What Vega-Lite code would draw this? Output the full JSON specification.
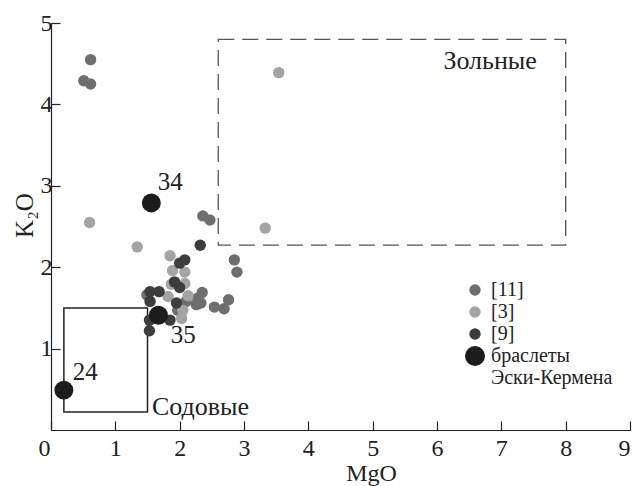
{
  "$schema": "https://vega.github.io/schema/vega-lite/v6.json",
  "autosize": {"type": "none"},
  "padding": {"left": 51, "top": 23, "right": 8, "bottom": 56},
  "width": 579,
  "height": 407,
  "background": "white",
  "config": {
    "view": {"stroke": null},
    "font": "Liberation Serif",
    "style": {"guide-label": {"font": "Liberation Serif", "fill": "#222"}, "guide-title": {"font": "Liberation Serif", "fill": "#222"}},
    "axis": {"grid": false, "domainColor": "#222", "tickColor": "#222", "labelColor": "#222", "titleColor": "#222", "labelFont": "Liberation Serif", "titleFont": "Liberation Serif", "labelFontSize": 24, "titleFontSize": 25, "titleFontWeight": "normal", "tickSize": -9, "domainWidth": 1.2, "tickWidth": 1.2},
    "legend": {"labelFont": "Liberation Serif", "labelFontSize": 20}
  },
  "datasets": {
    "pts": [
      {"MgO": 0.615, "K2O": 4.55, "g": "[11]"},
      {"MgO": 0.51, "K2O": 4.29, "g": "[11]"},
      {"MgO": 0.615, "K2O": 4.25, "g": "[11]"},
      {"MgO": 2.36, "K2O": 2.63, "g": "[11]"},
      {"MgO": 2.47, "K2O": 2.58, "g": "[11]"},
      {"MgO": 2.85, "K2O": 2.09, "g": "[11]"},
      {"MgO": 2.89, "K2O": 1.94, "g": "[11]"},
      {"MgO": 1.49, "K2O": 1.66, "g": "[11]"},
      {"MgO": 2.35, "K2O": 1.69, "g": "[11]"},
      {"MgO": 2.28, "K2O": 1.62, "g": "[11]"},
      {"MgO": 2.26, "K2O": 1.54, "g": "[11]"},
      {"MgO": 2.33, "K2O": 1.56, "g": "[11]"},
      {"MgO": 2.54, "K2O": 1.51, "g": "[11]"},
      {"MgO": 2.69, "K2O": 1.49, "g": "[11]"},
      {"MgO": 2.76, "K2O": 1.6, "g": "[11]"},
      {"MgO": 2.1, "K2O": 1.58, "g": "[11]"},
      {"MgO": 1.97, "K2O": 1.47, "g": "[11]"},
      {"MgO": 3.54, "K2O": 4.39, "g": "[3]"},
      {"MgO": 0.6, "K2O": 2.55, "g": "[3]"},
      {"MgO": 3.33, "K2O": 2.48, "g": "[3]"},
      {"MgO": 1.34, "K2O": 2.25, "g": "[3]"},
      {"MgO": 1.85, "K2O": 2.14, "g": "[3]"},
      {"MgO": 1.89, "K2O": 1.96, "g": "[3]"},
      {"MgO": 2.08, "K2O": 1.94, "g": "[3]"},
      {"MgO": 1.87, "K2O": 1.79, "g": "[3]"},
      {"MgO": 2.08, "K2O": 1.8, "g": "[3]"},
      {"MgO": 1.82, "K2O": 1.64, "g": "[3]"},
      {"MgO": 2.13, "K2O": 1.65, "g": "[3]"},
      {"MgO": 2.05, "K2O": 1.47, "g": "[3]"},
      {"MgO": 2.03, "K2O": 1.37, "g": "[3]"},
      {"MgO": 2.32, "K2O": 2.27, "g": "[9]"},
      {"MgO": 2.08, "K2O": 2.09, "g": "[9]"},
      {"MgO": 2.0, "K2O": 2.05, "g": "[9]"},
      {"MgO": 1.92, "K2O": 1.82, "g": "[9]"},
      {"MgO": 2.0, "K2O": 1.75, "g": "[9]"},
      {"MgO": 1.54, "K2O": 1.7, "g": "[9]"},
      {"MgO": 1.68, "K2O": 1.7, "g": "[9]"},
      {"MgO": 1.54, "K2O": 1.58, "g": "[9]"},
      {"MgO": 1.95, "K2O": 1.56, "g": "[9]"},
      {"MgO": 1.85, "K2O": 1.35, "g": "[9]"},
      {"MgO": 1.53, "K2O": 1.22, "g": "[9]"},
      {"MgO": 1.53, "K2O": 1.35, "g": "[9]"},
      {"MgO": 1.56, "K2O": 2.79, "g": "браслеты Эски-Кермена"},
      {"MgO": 1.67, "K2O": 1.41, "g": "браслеты Эски-Кермена"},
      {"MgO": 0.2, "K2O": 0.49, "g": "браслеты Эски-Кермена"}
    ],
    "boxes": [
      {"x1": 0.2, "x2": 1.5, "y1": 0.22, "y2": 1.5, "kind": "Содовые"},
      {"x1": 2.6, "x2": 8.0, "y1": 2.27, "y2": 4.8, "kind": "Зольные"}
    ],
    "texts": [
      {"MgO": 6.1, "K2O": 4.43, "t": "Зольные", "k": "name"},
      {"MgO": 1.57, "K2O": 0.19, "t": "Содовые", "k": "name"},
      {"MgO": 1.66, "K2O": 2.95, "t": "34", "k": "num"},
      {"MgO": 1.86, "K2O": 1.07, "t": "35", "k": "num"},
      {"MgO": 0.34, "K2O": 0.61, "t": "24", "k": "num"}
    ]
  },
  "layer": [
    {
      "data": {"name": "boxes"},
      "transform": [{"filter": "datum.kind === 'Содовые'"}],
      "mark": {"type": "rect", "fill": null, "stroke": "#222", "strokeWidth": 1.5},
      "encoding": {
        "x": {"field": "x1", "type": "quantitative"},
        "x2": {"field": "x2"},
        "y": {"field": "y1", "type": "quantitative"},
        "y2": {"field": "y2"}
      }
    },
    {
      "data": {"name": "boxes"},
      "transform": [{"filter": "datum.kind === 'Зольные'"}],
      "mark": {"type": "rect", "fill": null, "stroke": "#555", "strokeWidth": 1.3, "strokeDash": [16, 8]},
      "encoding": {
        "x": {"field": "x1", "type": "quantitative"},
        "x2": {"field": "x2"},
        "y": {"field": "y1", "type": "quantitative"},
        "y2": {"field": "y2"}
      }
    },
    {
      "data": {"name": "pts"},
      "mark": {"type": "circle", "opacity": 1},
      "encoding": {
        "x": {"field": "MgO", "type": "quantitative", "scale": {"domain": [0, 9], "nice": false},
          "axis": {"values": [0,1,2,3,4,5,6,7,8,9], "format": "d", "title": "MgO", "labelPadding": 15,
            "labelFont": "Liberation Serif", "labelFontSize": 24, "titleFont": "Liberation Serif", "titleFontSize": 24,
            "labelOffset": {"condition": {"test": "datum.value === 0", "value": -13}, "value": 0},
            "titleX": 320, "titleY": 50, "titleBaseline": "alphabetic"}},
        "y": {"field": "K2O", "type": "quantitative", "scale": {"domain": [0, 5], "nice": false},
          "axis": {"values": [1,2,3,4,5], "format": "d", "title": "K₂O", "labelPadding": 8,
            "labelFont": "Liberation Serif", "labelFontSize": 24, "titleFont": "Liberation Serif", "titleFontSize": 25,
            "titleX": -27, "titleY": 192, "titleAngle": -90, "titleAlign": "center", "titleBaseline": "middle"}},
        "color": {"field": "g", "type": "nominal",
          "scale": {"domain": ["[11]", "[3]", "[9]", "браслеты Эски-Кермена"], "range": ["#6e6e6e", "#a4a4a4", "#3d3d3d", "#1c1c1c"]},
          "legend": {"title": null, "orient": "none", "legendX": 414, "legendY": 257, "padding": 0,
            "labelFont": "Liberation Serif", "labelFontSize": 20, "labelColor": "#222", "symbolType": "circle", "symbolStrokeWidth": 0, "symbolOpacity": 1, "rowPadding": 2, "labelOffset": 6,
            "labelExpr": "datum.label === 'браслеты Эски-Кермена' ? ['браслеты', 'Эски-Кермена'] : datum.label",
            "encode": {"symbols": {"update": {"size": {"signal": "datum.value === 'браслеты Эски-Кермена' ? 400 : 130"}}}}}},
        "size": {"condition": {"test": "datum.g === 'браслеты Эски-Кермена'", "value": 360}, "value": 130}
      }
    },
    {
      "data": {"name": "texts"},
      "mark": {"type": "text", "align": "left", "baseline": "alphabetic", "font": "Liberation Serif", "color": "#222"},
      "encoding": {
        "x": {"field": "MgO", "type": "quantitative"},
        "y": {"field": "K2O", "type": "quantitative"},
        "text": {"field": "t"},
        "size": {"condition": {"test": "datum.k === 'name'", "value": 26}, "value": 25}
      }
    }
  ]
}
